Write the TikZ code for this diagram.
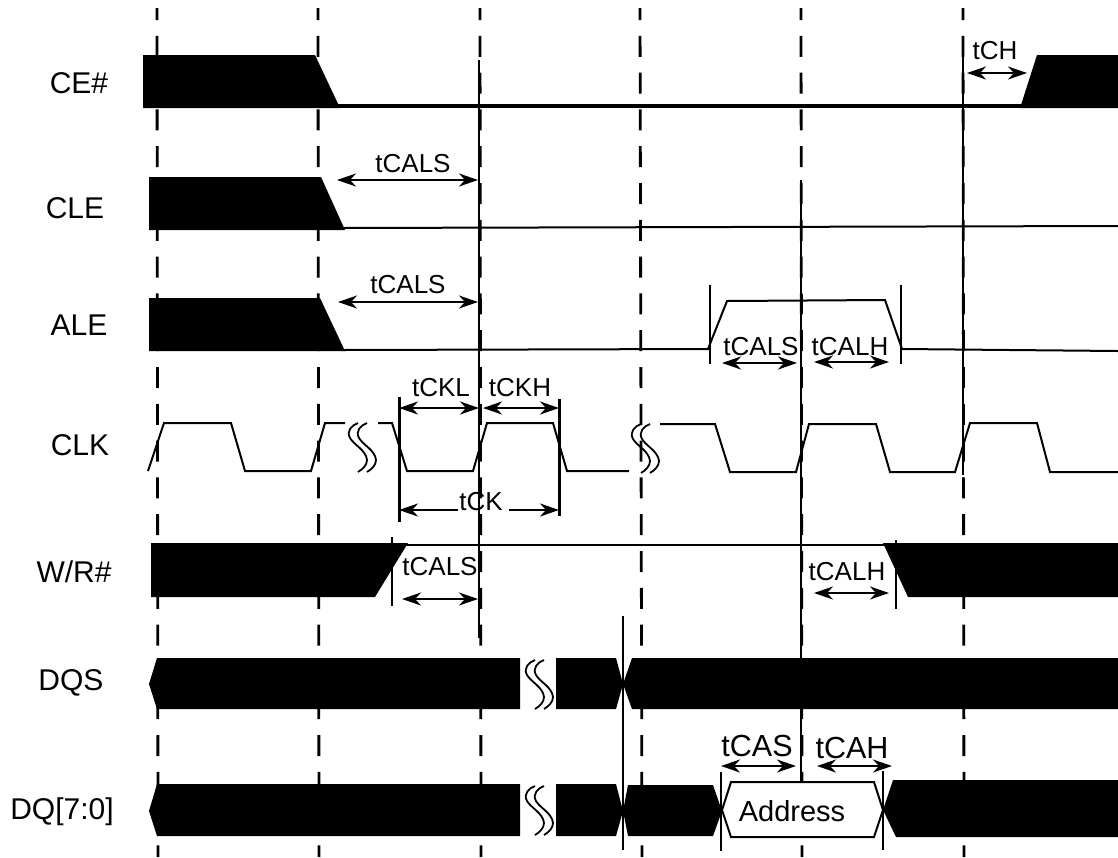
\documentclass[tikz,border=0pt]{standalone}
\usepackage{fontspec}
\setmainfont{Liberation Sans}
\usetikzlibrary{arrows.meta}
\tikzset{
  x=1pt,y=-1pt,
  gridline/.style={line width=2.8pt,dash pattern=on 21pt off 15.8pt,dash phase=9pt},
  solidv/.style={line width=2.2pt},
  bus/.style={fill=black,draw=none},
  wave/.style={line width=2pt,line join=miter},
  wavethick/.style={line width=3.2pt},
  dim/.style={{Stealth[length=19pt,width=13pt,inset=6pt]}-{Stealth[length=19pt,width=13pt,inset=6pt]}},
  dimone/.style={line width=2.4pt,-{Stealth[length=19pt,width=13pt,inset=6pt]}},
  sig/.style={font=\fontsize{30}{34}\selectfont,anchor=base,inner sep=0pt},
  tim/.style={font=\fontsize{26}{30}\selectfont,anchor=base,inner sep=0pt},
  timbig/.style={font=\fontsize{30.5}{34}\selectfont,anchor=base,inner sep=0pt},
  squig/.pic={
    \foreach \d in {0,9}{
      \draw[line width=1.8pt,xshift=\d pt]
        (11,0) .. controls (5,2) and (-1,8) .. (3,15)
        .. controls (7,22) and (19,27) .. (20,37)
        .. controls (20,42) and (16,46) .. (11,49);
    }
  }
}
\begin{document}
\begin{tikzpicture}
\useasboundingbox (0,0) rectangle (1118,857);
% grid tops and bottoms
\foreach \n/\xa/\xb in {ga/157/158,gb/318/319,gc/480/481,gd/640/642,ge/801/802,gf/963/964}{
  \coordinate (\n t) at (\xa,8);
  \coordinate (\n b) at (\xb,857);
  \draw[gridline] (\n t) -- (\n b);
}
% solid reference lines
\coordinate (sct) at (479,60);   \coordinate (scb) at (479,638);
\coordinate (set) at (801,180);  \coordinate (seb) at (801,782);
\coordinate (sft) at (963,57);   \coordinate (sfb) at (963,475);
\coordinate (sdt) at (623,616);  \coordinate (sdb) at (623,850);
\draw[solidv] (sct) -- (scb);
\draw[solidv] (set) -- (seb);
\draw[solidv] (sft) -- (sfb);
\draw[solidv,line width=2.6pt] (sdt) -- (sdb);
% level lines
\coordinate (cea) at (338,106); \coordinate (ceb) at (1022,106);
\coordinate (clea) at (343,228); \coordinate (cleb) at (1118,226);
\coordinate (wra) at (405,545); \coordinate (wrb) at (886,545);
\draw[wavethick] (cea) -- (ceb);
\draw[wave] (clea) -- (cleb);
\draw[wave] (wra) -- (wrb);
% CE#
\fill[bus] (143,55) -- (315,55) -- (340,108) -- (143,108) -- cycle;
\fill[bus] (1037,55) -- (1118,55) -- (1118,108) -- (1020,108) -- cycle;
% CLE
\fill[bus] (149,177) -- (321,177) -- (345,230) -- (149,230) -- cycle;
% ALE
\fill[bus] (149,298) -- (320,298) -- (345,351) -- (149,351) -- cycle;
\draw[wave] (343,350) -- (708,349) -- (727,301) -- (885,300) -- (902,349) -- (1118,351);
% CLK
\draw[wave] (148,471) -- (164,423) -- (231,423) -- (245,471) -- (311,471) -- (325,423) -- (345,423);
\draw[wave] (378,423) -- (392,423) -- (407,471) -- (473,471) -- (487,423) -- (553,423) -- (567,471) -- (629,471);
\draw[wave] (660,424) -- (715,424) -- (730,472) -- (796,472) -- (809,424) -- (876,424) -- (890,472) -- (955,472) -- (970,423) -- (1037,423) -- (1050,472) -- (1118,472);
\pic at (347,423) {squig};
\pic at (630,424) {squig};
\pic at (524,660) {squig};
\pic at (524,786) {squig};
% W/R#
\fill[bus] (151,543) -- (408,543) -- (375,597) -- (151,597) -- cycle;
\fill[bus] (883,543) -- (1118,543) -- (1118,597) -- (908,597) -- cycle;
% DQS
\fill[bus] (149,684) -- (157,658) -- (520,658) -- (520,709) -- (157,709) -- cycle;
\fill[bus] (556,658) -- (616,658) -- (623,684) -- (616,709) -- (556,709) -- cycle;
\fill[bus] (623,684) -- (632,658) -- (1118,658) -- (1118,709) -- (632,709) -- cycle;
% DQ
\fill[bus] (149,811) -- (157,784) -- (520,784) -- (520,836) -- (157,836) -- cycle;
\fill[bus] (556,784) -- (616,784) -- (623,811) -- (616,836) -- (556,836) -- cycle;
\fill[bus] (623,811) -- (628,785) -- (713,785) -- (722,811) -- (713,836) -- (628,836) -- cycle;
\fill[bus] (883,810) -- (893,780) -- (1118,780) -- (1118,837) -- (896,837) -- cycle;
\draw[wave,fill=white] (722,810) -- (731,782) -- (874,782) -- (883,810) -- (874,837) -- (731,837) -- cycle;
% ticks
\foreach \n/\x/\ya/\yb/\w in {ta/710/285/364/1.8,tb/901/285/364/1.8,tc/399/397/522/3,td/559/399/516/3,te/392/537/606/2.8,tf/896/540/609/2.2,tg/721/772/851/1.8,th/883/771/850/2.8}{
  \coordinate (\n u) at (\x,\ya);
  \coordinate (\n d) at (\x,\yb);
  \draw[line width=\w pt] (\n u) -- (\n d);
}
% dimension arrows
\foreach \n/\xa/\xb/\y/\w in {
  aa/337/478/180/1.8,ab/338/478/302/1.8,ac/399/479/408/2.6,ad/483/559/408/2.6,
  ae/402/478/599/2,af/814/889/593/2,ag/722/797/363/2.6,ah/814/889/362/2.2,
  ai/967/1027/73/1.8,aj/721/796/766/2.2,ak/817/892/766/2.2}{
  \coordinate (\n l) at (\xa,\y);
  \coordinate (\n r) at (\xb,\y);
  \draw[dim,line width=\w pt] (\n l) -- (\n r);
}
\coordinate (ckl) at (458,510); \coordinate (ckla) at (399,510);
\coordinate (ckr) at (509,510); \coordinate (ckra) at (559,510);
\draw[dimone] (ckl) -- (ckla);
\draw[dimone] (ckr) -- (ckra);
% signal names
\node[sig] (nce) at (79,93) {CE\#};
\node[sig] (ncle) at (75,218) {CLE};
\node[sig] (nale) at (79,335) {ALE};
\node[sig] (nclk) at (80,455) {CLK};
\node[sig] (nwr) at (74,582) {W/R\#};
\node[sig] (ndqs) at (71,690) {DQS};
\node[sig] (ndq) at (62,819) {DQ[7:0]};
% timing names
\node[tim] (l1) at (413,172) {tCALS};
\node[tim] (l2) at (408,293) {tCALS};
\node[tim] (l3) at (441,396) {tCKL};
\node[tim] (l4) at (520,396) {tCKH};
\node[tim] (l5) at (481,510) {tCK};
\node[tim] (l6) at (440,575) {tCALS};
\node[tim] (l7) at (847,580) {tCALH};
\node[tim] (l8) at (761,355) {tCALS};
\node[tim] (l9) at (850,355) {tCALH};
\node[tim] (l10) at (995,59) {tCH};
\node[timbig] (l11) at (757,756) {tCAS};
\node[timbig] (l12) at (852,758) {tCAH};
\node[sig,font=\fontsize{29}{33}\selectfont] (l13) at (792,821) {Address};
\end{tikzpicture}
\end{document}
